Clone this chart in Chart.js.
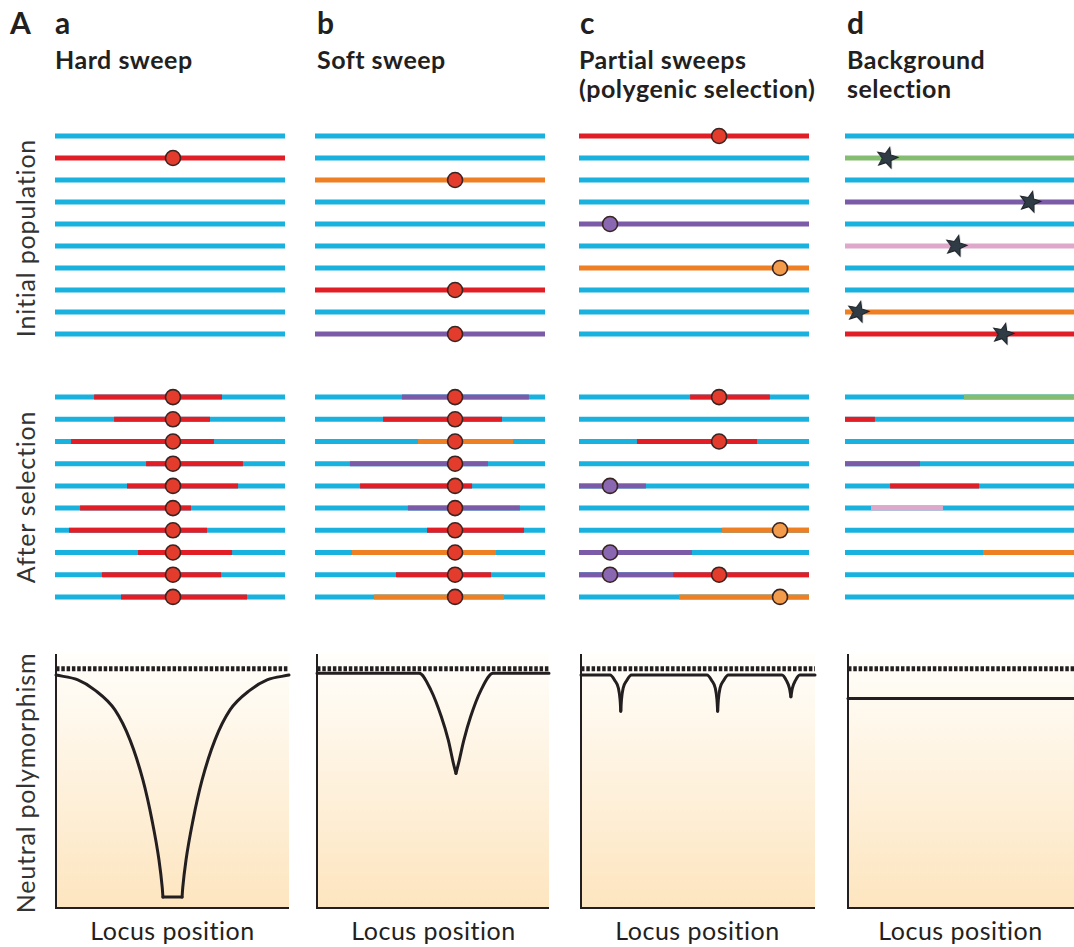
<!DOCTYPE html>
<html>
<head>
<meta charset="utf-8">
<script src="https://cdn.jsdelivr.net/npm/chart.js@4.4.1/dist/chart.umd.min.js"></script>
<style>
  body { margin: 0; width: 1074px; height: 947px; overflow: hidden; position: relative; background: #fff;
         font-family: Lato, "Open Sans", sans-serif; color: #231f20; }
  canvas { position: absolute; }
  .big { position: absolute; top: 7px; font-size: 30px; line-height: 30px; font-weight: 700; }
  .ttl { position: absolute; top: 45px; font-size: 25px; font-weight: 700; line-height: 29px; letter-spacing: 0.5px; white-space: nowrap; }
  .side { position: absolute; font-size: 25px; letter-spacing: 0.8px; white-space: nowrap; color: #333; transform: translate(-50%, -50%) rotate(-90deg); }
  .xl { position: absolute; top: 915px; width: 233px; text-align: center; font-size: 25px; line-height: 30px; letter-spacing: 0.5px; }
</style>
</head>
<body>
<div class="big" style="left:10px">A</div>
<div class="big" style="left:55px">a</div>
<div class="big" style="left:317px">b</div>
<div class="big" style="left:580px">c</div>
<div class="big" style="left:847px">d</div>
<div class="ttl" style="left:55px">Hard sweep</div>
<div class="ttl" style="left:317px">Soft sweep</div>
<div class="ttl" style="left:579px">Partial sweeps<br>(polygenic selection)</div>
<div class="ttl" style="left:847px">Background<br>selection</div>
<div class="side" style="left:25px;top:238px">Initial population</div>
<div class="side" style="left:25px;top:497px">After selection</div>
<div class="side" style="left:25px;top:783px">Neutral polymorphism</div>
<div class="xl" style="left:56px">Locus position</div>
<div class="xl" style="left:317px">Locus position</div>
<div class="xl" style="left:581px">Locus position</div>
<div class="xl" style="left:844px">Locus position</div>

<script>
// haplotypes: o = ancestral background, R/O/P/G/K = distinct haplotypes
const rows = [0, 1, 2, 3, 4, 5, 6, 7, 8, 9];

// a. hard sweep
const hardInit = ['o', 'R', 'o', 'o', 'o', 'o', 'o', 'o', 'o', 'o'];
const hardSite = 51.3;
const hardFrom = [17, 25.7, 7, 39.6, 31.3, 10.9, 6.1, 36.1, 20.4, 28.7];
const hardTo = [72.6, 67.4, 69.1, 81.7, 79.6, 59.1, 66.1, 77, 72.2, 83.5];

// b. soft sweep
const softInit = ['o', 'o', 'O', 'o', 'o', 'o', 'o', 'R', 'o', 'P'];
const softSite = 60.9;
const softHap = ['P', 'R', 'O', 'P', 'R', 'P', 'R', 'O', 'R', 'O'];
const softFrom = [37.8, 29.6, 44.8, 15.2, 19.6, 40.4, 48.7, 16.1, 35.2, 25.7];
const softTo = [93, 81.3, 86.1, 75.2, 68.3, 89.1, 90.9, 78.7, 76.5, 82.2];

// c. partial sweeps
const partInit = ['R', 'o', 'o', 'o', 'P', 'o', 'O', 'o', 'o', 'o'];
const partSites = { R: 60.9, P: 13.5, O: 87.4 };
const partAfter = [
  [[48.3, 83, 'R']],
  [],
  [[25.2, 77.4, 'R']],
  [],
  [[0, 29.1, 'P']],
  [],
  [[62.2, 100, 'O']],
  [[0, 49.1, 'P']],
  [[0, 40.9, 'P'], [40.9, 100, 'R']],
  [[43.5, 100, 'O']]
];

// d. background selection
const bgInit = ['o', 'G', 'o', 'P', 'o', 'K', 'o', 'o', 'O', 'R'];
const bgStars = [null, 18.3, null, 80.4, null, 48.3, null, null, 5.7, 68.7];
const bgAfter = [
  [[51.7, 100, 'G']],
  [[0, 13, 'R']],
  [],
  [[0, 32.6, 'P']],
  [[19.6, 58.3, 'R']],
  [[11.3, 42.6, 'K']],
  [],
  [[60, 100, 'O']],
  [],
  []
];

// neutral polymorphism along the locus
const neutralLevel = 94.2;
const hardCurveX = [0, 9.4, 16.7, 25.3, 31.8, 37.3, 41.2, 44.2, 45.6, 45.9, 54.1, 54.4, 55.8, 58.8, 62.7, 68.2, 74.7, 83.3, 90.6, 100];
const hardCurveY = [91.7, 89.8, 85.8, 78, 66.1, 50.4, 34.6, 18.9, 8, 4.3, 4.3, 8, 18.9, 34.6, 50.4, 66.1, 78, 85.8, 89.8, 91.7];
const softCurveX = [0, 44, 49.1, 53.6, 56.6, 58.8, 59.9, 61, 63.3, 66.2, 70.7, 75.9, 100];
const softCurveY = [92.4, 92.4, 85.8, 75.3, 66.1, 56.9, 53, 56.9, 66.1, 75.3, 85.8, 92.4, 92.4];
const partCurveX = [0, 12.4, 14.5, 16, 16.7, 17, 17.3, 18, 19.5, 21.6, 53.8, 55.9, 57.4, 58.1, 58.4, 58.7, 59.4, 60.9, 63, 85.9, 87.8, 89.1, 89.7, 90.3, 91.6, 93.5, 100];
const partCurveY = [91.7, 91.7, 89.5, 86.5, 82, 77.5, 82, 86.5, 89.5, 91.7, 91.7, 89.5, 86.5, 82, 77.5, 82, 86.5, 89.5, 91.7, 91.7, 89.5, 86.5, 83.2, 86.5, 89.5, 91.7, 91.7];
const bgLevel = 82.5;

const HAP = { o: '#19b2de', R: '#e11d25', O: '#ee7f23', P: '#7b5ba7', G: '#84bd70', K: '#dea8ca' };
const DOT = { R: '#e43c2c', O: '#f29b4a', P: '#8a68b1' };
const PAD = 12;
const COLS = [55, 315, 579, 845];
const LOWER = [56, 317, 581, 848];

function place(left, top, w, h) {
  const c = document.createElement('canvas');
  c.width = w + 2 * PAD;
  c.height = h + 2 * PAD;
  c.style.left = (left - PAD) + 'px';
  c.style.top = (top - PAD) + 'px';
  document.body.appendChild(c);
  return c;
}

function seg(from, to, row, hap) {
  return {
    data: [{ x: from, y: row }, { x: to, y: row }],
    showLine: true, borderColor: HAP[hap], borderWidth: 5, borderCapStyle: 'butt',
    pointRadius: 0, clip: false
  };
}

function dots(points, fill) {
  return {
    data: points, showLine: false, pointRadius: 7.5,
    pointBackgroundColor: fill, pointBorderColor: '#3a2421', pointBorderWidth: 1.6, clip: false
  };
}

const starCanvas = (() => {
  const c = document.createElement('canvas');
  c.width = c.height = 26;
  const g = c.getContext('2d');
  g.translate(13, 13);
  g.rotate(0.25);
  g.beginPath();
  for (let i = 0; i < 10; i++) {
    const r = i % 2 ? 4.8 : 11;
    const a = -Math.PI / 2 + i * Math.PI / 5;
    g.lineTo(r * Math.cos(a), r * Math.sin(a));
  }
  g.closePath();
  g.fillStyle = '#2f3b45';
  g.fill();
  g.strokeStyle = '#1b2227';
  g.lineWidth = 1;
  g.stroke();
  return c;
})();

// datasets are listed bottom-to-top; chart.js paints the first one last, so flip
function draw(canvas, datasets, yMin, yMax, reverse, plugins) {
  return new Chart(canvas, {
    type: 'scatter',
    data: { datasets: datasets.slice().reverse() },
    options: {
      responsive: false, animation: false, events: [],
      layout: { padding: PAD },
      plugins: { legend: { display: false }, tooltip: { enabled: false } },
      scales: {
        x: { type: 'linear', min: 0, max: 100, display: false },
        y: { type: 'linear', min: yMin, max: yMax, reverse: reverse, display: false }
      }
    },
    plugins: plugins || []
  });
}

function rowPanel(col, top, height, datasets) {
  draw(place(COLS[col], top, 230, height), datasets, -0.5, 9.5, true);
}

const TOP1 = 125, H1 = 220, TOP2 = 386, H2 = 222;

// initial population
let ds = [];
rows.forEach(i => ds.push(seg(0, 100, i, hardInit[i])));
rows.forEach(i => { if (hardInit[i] !== 'o') ds.push(dots([{ x: hardSite, y: i }], DOT.R)); });
rowPanel(0, TOP1, H1, ds);

ds = [];
rows.forEach(i => ds.push(seg(0, 100, i, softInit[i])));
rows.forEach(i => { if (softInit[i] !== 'o') ds.push(dots([{ x: softSite, y: i }], DOT.R)); });
rowPanel(1, TOP1, H1, ds);

ds = [];
rows.forEach(i => ds.push(seg(0, 100, i, partInit[i])));
rows.forEach(i => {
  if (partInit[i] !== 'o') ds.push(dots([{ x: partSites[partInit[i]], y: i }], DOT[partInit[i]]));
});
rowPanel(2, TOP1, H1, ds);

ds = [];
const starPts = [];
rows.forEach(i => {
  ds.push(seg(0, 100, i, bgInit[i]));
  if (bgStars[i] !== null) starPts.push({ x: bgStars[i], y: i });
});
ds.push({ data: starPts, showLine: false, pointStyle: starCanvas, pointRadius: 11, clip: false });
rowPanel(3, TOP1, H1, ds);

// after selection
ds = [];
rows.forEach(i => {
  ds.push(seg(0, 100, i, 'o'));
  ds.push(seg(hardFrom[i], hardTo[i], i, 'R'));
});
ds.push(dots(rows.map(i => ({ x: hardSite, y: i })), DOT.R));
rowPanel(0, TOP2, H2, ds);

ds = [];
rows.forEach(i => {
  ds.push(seg(0, 100, i, 'o'));
  ds.push(seg(softFrom[i], softTo[i], i, softHap[i]));
});
ds.push(dots(rows.map(i => ({ x: softSite, y: i })), DOT.R));
rowPanel(1, TOP2, H2, ds);

ds = [];
const partDots = [];
rows.forEach(i => {
  ds.push(seg(0, 100, i, 'o'));
  partAfter[i].forEach(s => {
    ds.push(seg(s[0], s[1], i, s[2]));
    const site = partSites[s[2]];
    if (site >= s[0] && site <= s[1]) partDots.push([{ x: site, y: i }, s[2]]);
  });
});
partDots.forEach(d => ds.push(dots([d[0]], DOT[d[1]])));
rowPanel(2, TOP2, H2, ds);

ds = [];
rows.forEach(i => {
  ds.push(seg(0, 100, i, 'o'));
  bgAfter[i].forEach(s => ds.push(seg(s[0], s[1], i, s[2])));
});
rowPanel(3, TOP2, H2, ds);

// neutral polymorphism panels
const frame = {
  id: 'frame',
  beforeDatasetsDraw(chart) {
    const { ctx, chartArea: a } = chart;
    const g = ctx.createLinearGradient(0, a.top, 0, a.bottom);
    g.addColorStop(0, '#fffefb');
    g.addColorStop(1, '#fde5bf');
    ctx.save();
    ctx.fillStyle = g;
    ctx.fillRect(a.left, a.top, a.right - a.left, a.bottom - a.top);
    ctx.strokeStyle = '#231f20';
    ctx.lineWidth = 2;
    ctx.beginPath();
    ctx.moveTo(a.left, a.top);
    ctx.lineTo(a.left, a.bottom);
    ctx.lineTo(a.right, a.bottom);
    ctx.stroke();
    ctx.restore();
  }
};

// split a profile where it turns upward (troughs, flat bottoms) so the
// monotone spline keeps the sharp corners there
function curve(xs, ys) {
  const parts = [];
  let cur = [{ x: xs[0], y: ys[0] }];
  let prev = null;
  for (let k = 1; k < xs.length; k++) {
    const s = Math.sign(ys[k] - ys[k - 1]);
    if (prev !== null && s !== prev && !(prev === 0 && s < 0) && !(prev > 0 && s === 0)) {
      parts.push(cur);
      cur = [{ x: xs[k - 1], y: ys[k - 1] }];
    }
    cur.push({ x: xs[k], y: ys[k] });
    prev = s;
  }
  parts.push(cur);
  return parts.map(p => ({
    data: p, showLine: true, borderColor: '#231f20', borderWidth: 3, pointRadius: 0,
    cubicInterpolationMode: 'monotone', borderJoinStyle: 'round', borderCapStyle: 'round', clip: false
  }));
}

function dashed(level) {
  return {
    data: [{ x: 0, y: level }, { x: 100, y: level }],
    showLine: true, borderColor: '#231f20', borderWidth: 5, borderDash: [3.5, 1.8],
    borderCapStyle: 'butt', pointRadius: 0, clip: false
  };
}

const TOP3 = 654, H3 = 254;
draw(place(LOWER[0], TOP3, 233, H3), [...curve(hardCurveX, hardCurveY), dashed(neutralLevel)], 0, 100, false, [frame]);
draw(place(LOWER[1], TOP3, 232, H3), [...curve(softCurveX, softCurveY), dashed(neutralLevel)], 0, 100, false, [frame]);
draw(place(LOWER[2], TOP3, 234, H3), [...curve(partCurveX, partCurveY), dashed(neutralLevel)], 0, 100, false, [frame]);
draw(place(LOWER[3], TOP3, 228, H3), [...curve([0, 100], [bgLevel, bgLevel]), dashed(neutralLevel)], 0, 100, false, [frame]);
</script>
</body>
</html>
